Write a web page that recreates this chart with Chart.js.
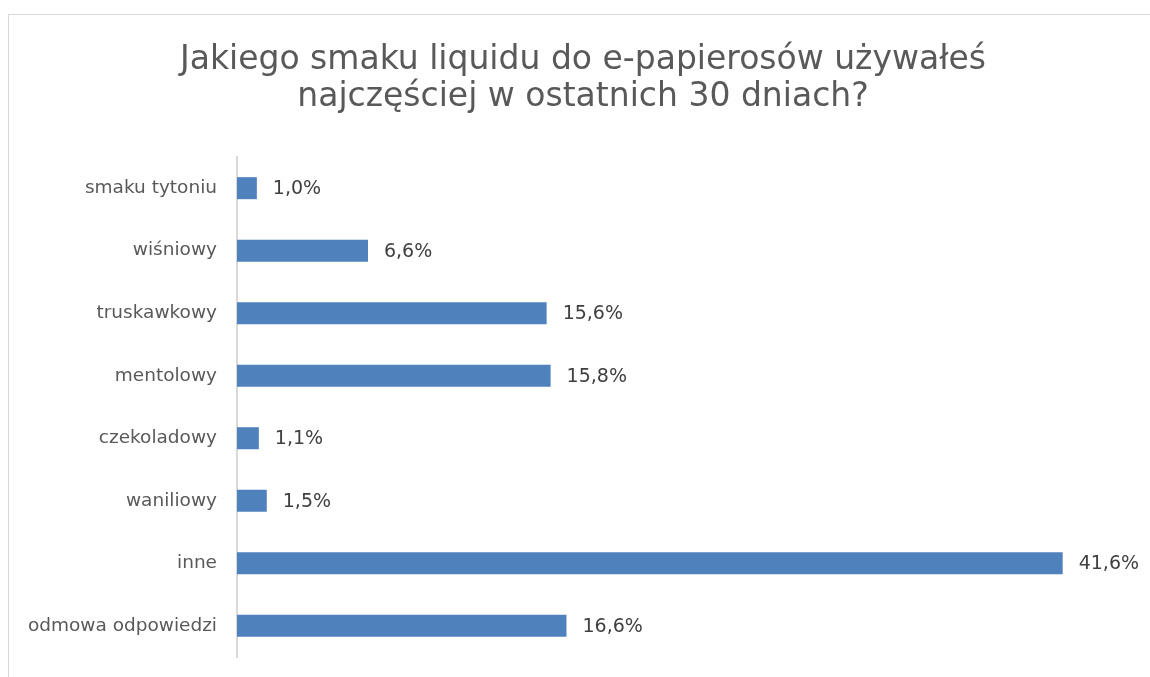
<!DOCTYPE html>
<html lang="pl">
<head>
<meta charset="utf-8">
<title>Smak liquidu</title>
<script src="https://cdn.jsdelivr.net/npm/chart.js@4.4.1/dist/chart.umd.min.js"></script>
<style>
    html, body { margin: 0; padding: 0; background: #fff; }
    #wrap { position: relative; width: 1150px; height: 677px; overflow: hidden; }
    #ramka { position: absolute; left: 8px; top: 14px; width: 1200px; height: 700px; border: 1px solid #d9d9d9; box-sizing: border-box; pointer-events: none; }
    #wykres { position: absolute; left: 0; top: 0; }
</style>
</head>
<body>
<div id="wrap">
    <div id="ramka"></div>
    <canvas id="wykres" width="1150" height="677"></canvas>
</div>
<script>
var tytul = ['Jakiego smaku liquidu do e-papierosów używałeś', 'najczęściej w ostatnich 30 dniach?'];
var kategorie = ['smaku tytoniu', 'wiśniowy', 'truskawkowy', 'mentolowy', 'czekoladowy', 'waniliowy', 'inne', 'odmowa odpowiedzi'];
var wartosci = [1.0, 6.6, 15.6, 15.8, 1.1, 1.5, 41.6, 16.6];

var czcionka = '"DejaVu Sans", Verdana, sans-serif';

function formatProc(v) {
    return v.toFixed(1).replace('.', ',') + '%';
}

// etykiety z wartoscia obok slupka
var etykietyWartosci = {
    id: 'etykietyWartosci',
    afterDatasetsDraw: function (chart) {
        var ctx = chart.ctx;
        var meta = chart.getDatasetMeta(0);
        ctx.save();
        ctx.font = '19px ' + czcionka;
        ctx.fillStyle = '#404040';
        ctx.textAlign = 'left';
        ctx.textBaseline = 'middle';
        meta.data.forEach(function (bar, i) {
            ctx.fillText(formatProc(wartosci[i]), bar.x + 16, bar.y + 1);
        });
        ctx.restore();
    }
};

var ctx = document.getElementById('wykres').getContext('2d');
var chart = new Chart(ctx, {
    type: 'bar',
    data: {
        labels: kategorie,
        datasets: [{
            label: 'odsetek',
            data: wartosci,
            backgroundColor: '#4f81bd',
            borderWidth: 0,
            barPercentage: 0.352,
            categoryPercentage: 1.0,
        }],
    },
    options: {
        indexAxis: 'y',
        responsive: false,
        animation: false,
        layout: { padding: { left: 16, right: 0, top: 14, bottom: 20 } },
        plugins: {
            legend: { display: false },
            tooltip: { enabled: false },
            title: {
                display: true,
                text: tytul,
                color: '#595959',
                font: { family: czcionka, size: 33, weight: 'normal', lineHeight: 1.12 },
                padding: { top: 28, bottom: 41 },
            },
        },
        scales: {
            x: {
                display: false,
                min: 0,
                max: 46,
            },
            y: {
                grid: { display: false, drawTicks: false },
                border: { display: true, color: '#d9d9d9', width: 2 },
                ticks: {
                    color: '#595959',
                    padding: 20,
                    font: { family: czcionka, size: 18.5 },
                },
                afterFit: function (scale) {
                    scale.width = 221;
                    scale.paddingTop = 0;
                    scale.paddingBottom = 0;
                },
            },
        },
    },
    plugins: [etykietyWartosci],
});
</script>
</body>
</html>
